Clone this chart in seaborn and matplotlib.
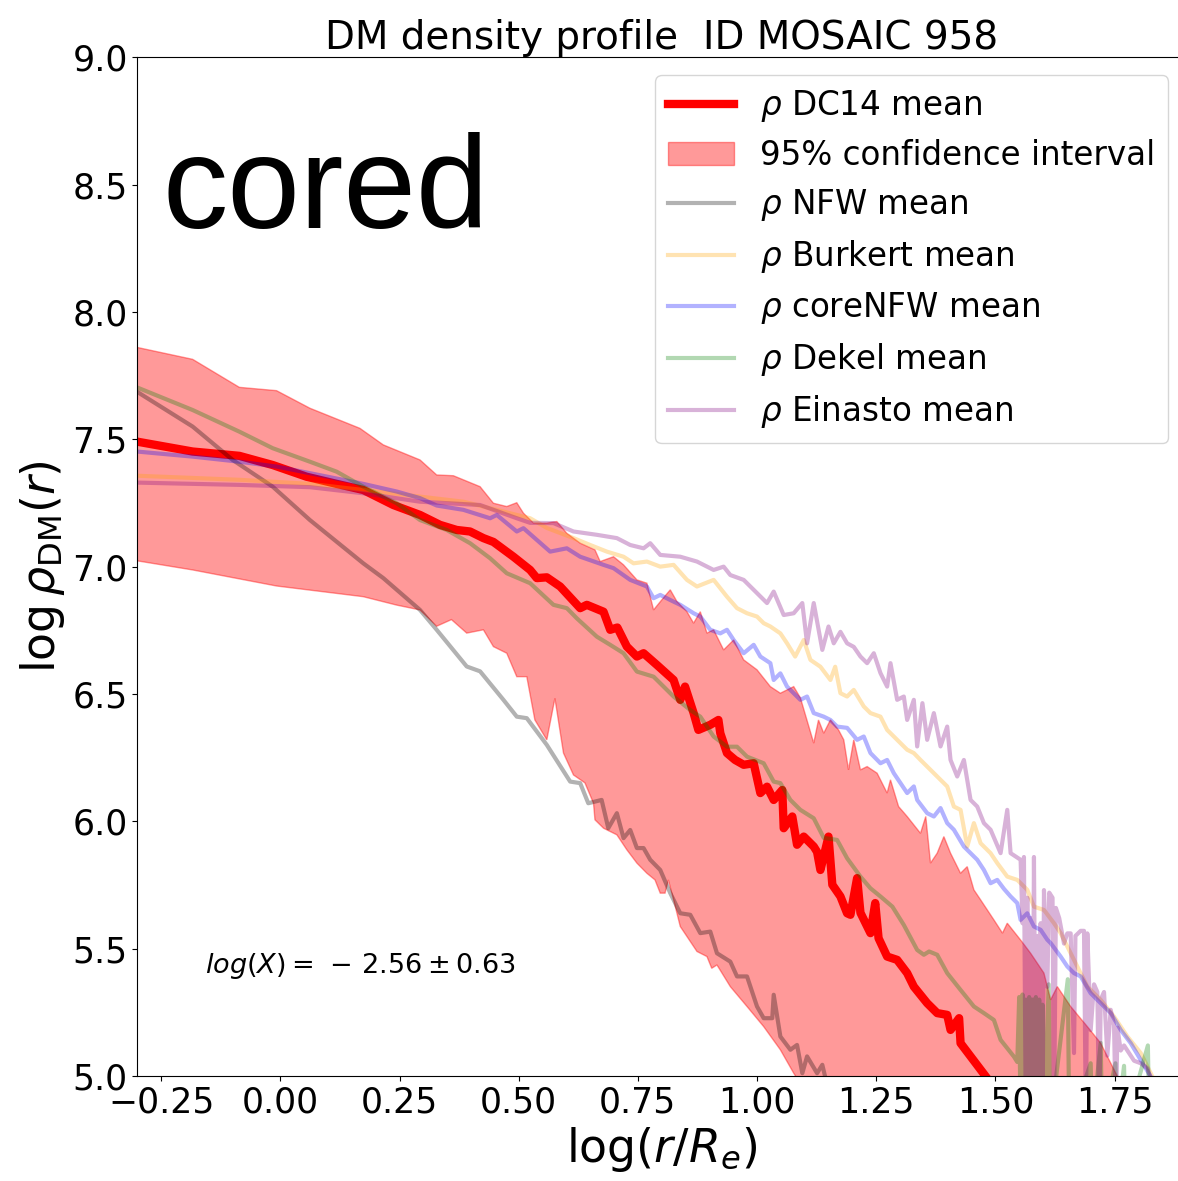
import numpy as np
import pandas as pd
import matplotlib
matplotlib.use("Agg")
import matplotlib.pyplot as plt
import seaborn as sns

# ---------------- data ----------------
dc14_x = [-0.301,-0.184,-0.086,-0.016,0.055,0.118,0.174,0.237,0.293,0.335,
          0.370,0.398,0.426,0.447,0.489,0.524,0.538,0.559,0.587,0.629,
          0.643,0.678,0.692,0.707,0.727,0.748,0.762,0.790,0.825,0.839,
          0.849,0.867,0.877,0.902,0.919,0.923,0.937,0.954,0.972,0.993,
          1.007,1.021,1.035,1.053,1.056,1.074,1.084,1.098,1.119,1.126,
          1.133,1.150,1.158,1.175,1.189,1.196,1.210,1.217,1.238,1.248,
          1.255,1.273,1.294,1.315,1.329,1.357,1.378,1.399,1.406,1.424,
          1.427,1.480,1.520]
dc14_y = [7.491,7.452,7.435,7.399,7.353,7.325,7.301,7.242,7.203,7.164,
          7.144,7.138,7.112,7.097,7.039,6.987,6.955,6.958,6.922,6.837,
          6.850,6.823,6.752,6.761,6.686,6.647,6.660,6.614,6.555,6.477,
          6.529,6.425,6.359,6.379,6.398,6.346,6.268,6.241,6.222,6.228,
          6.111,6.136,6.084,6.123,5.973,6.019,5.908,5.940,5.901,5.880,
          5.809,5.940,5.751,5.705,5.639,5.633,5.777,5.641,5.561,5.679,
          5.541,5.469,5.456,5.404,5.351,5.286,5.247,5.240,5.181,5.227,
          5.129,4.998,4.900]

ci_up_x = [-0.301,-0.184,-0.086,-0.008,0.062,0.167,0.216,0.293,0.328,0.363,
           0.419,0.447,0.475,0.496,0.510,0.531,0.559,0.580,0.601,0.629,
           0.660,0.671,0.699,0.720,0.748,0.769,0.783,0.800,0.818,0.832,
           0.853,0.867,0.881,0.895,0.909,0.930,0.951,0.972,1.000,1.028,
           1.049,1.077,1.091,1.119,1.129,1.140,1.154,1.171,1.182,1.192,
           1.203,1.217,1.231,1.252,1.273,1.280,1.297,1.315,1.343,1.354,
           1.364,1.378,1.392,1.406,1.427,1.441,1.455,1.469,1.497,1.515,
           1.525,1.553,1.574,1.602,1.616,1.630,1.658,1.693,1.721,1.756,
           1.784]
ci_up_y = [7.861,7.814,7.704,7.691,7.622,7.543,7.478,7.419,7.360,7.357,
           7.314,7.249,7.236,7.251,7.210,7.171,7.171,7.177,7.131,7.092,
           7.066,7.020,7.039,7.007,6.948,6.935,6.830,6.869,6.909,6.863,
           6.823,6.778,6.823,6.739,6.752,6.673,6.712,6.634,6.595,6.529,
           6.503,6.529,6.485,6.307,6.398,6.346,6.398,6.359,6.320,6.202,
           6.320,6.202,6.215,6.189,6.111,6.163,6.058,6.019,5.953,6.019,
           5.836,5.875,5.940,5.875,5.796,5.822,5.731,5.692,5.613,5.561,
           5.600,5.534,5.482,5.404,5.299,5.351,5.273,5.194,5.129,4.999,
           4.920]

ci_lo_x = [-0.301,-0.184,-0.008,0.174,0.244,0.293,0.328,0.359,0.391,0.426,
           0.447,0.475,0.496,0.517,0.534,0.559,0.576,0.594,0.615,0.639,
           0.657,0.660,0.678,0.706,0.727,0.748,0.769,0.786,0.797,0.807,
           0.814,0.825,0.839,0.874,0.895,0.905,0.916,0.944,0.979,1.014,
           1.049,1.077,1.112]
ci_lo_y = [7.023,6.987,6.924,6.882,6.849,6.830,6.766,6.792,6.739,6.752,
           6.686,6.660,6.568,6.568,6.398,6.320,6.483,6.268,6.182,6.151,
           6.071,6.006,5.973,5.947,5.888,5.836,5.796,5.770,5.718,5.718,
           5.770,5.692,5.587,5.489,5.469,5.423,5.436,5.351,5.273,5.194,
           5.103,5.011,4.910]

nfw_x = [-0.301,-0.184,-0.100,-0.016,0.062,0.174,0.216,0.293,0.328,0.391,
         0.419,0.468,0.496,0.517,0.559,0.608,0.629,0.646,0.674,0.688,
         0.706,0.720,0.734,0.748,0.762,0.776,0.797,0.818,0.839,0.860,
         0.881,0.902,0.916,0.944,0.958,0.979,1.000,1.014,1.032,1.035,
         1.049,1.070,1.084,1.095,1.105,1.126,1.137,1.147,1.175]
nfw_y = [7.687,7.550,7.419,7.314,7.183,7.013,6.955,6.830,6.752,6.608,
         6.589,6.477,6.411,6.405,6.300,6.156,6.150,6.071,6.084,5.973,
         6.032,5.934,5.966,5.895,5.895,5.849,5.809,5.718,5.639,5.633,
         5.561,5.567,5.482,5.449,5.391,5.391,5.273,5.227,5.227,5.319,
         5.155,5.103,5.122,5.011,5.077,5.011,5.044,4.965,4.870]

bur_x = [-0.301,-0.086,0.062,0.174,0.293,0.384,0.454,0.496,0.524,0.559,
         0.615,0.650,0.685,0.720,0.741,0.769,0.797,0.825,0.853,0.874,
         0.909,0.937,0.958,0.979,1.000,1.014,1.028,1.049,1.063,1.080,
         1.098,1.112,1.133,1.154,1.164,1.175,1.189,1.203,1.224,1.238,
         1.259,1.273,1.294,1.315,1.329,1.343,1.364,1.378,1.399,1.413,
         1.427,1.441,1.455,1.469,1.490,1.504,1.525,1.546,1.567,1.581,
         1.602,1.623,1.637,1.665,1.693,1.721,1.749,1.777,1.805,1.826,
         1.847]
bur_y = [7.357,7.341,7.325,7.301,7.275,7.255,7.223,7.203,7.190,7.152,
         7.112,7.085,7.059,7.039,7.013,7.020,7.000,7.007,6.948,6.922,
         6.948,6.882,6.837,6.817,6.804,6.778,6.765,6.738,6.699,6.647,
         6.712,6.634,6.607,6.555,6.607,6.503,6.490,6.516,6.451,6.425,
         6.411,6.359,6.320,6.281,6.268,6.241,6.202,6.176,6.137,6.058,
         6.045,5.901,5.993,5.914,5.875,5.836,5.783,5.770,5.731,5.665,
         5.652,5.600,5.561,5.456,5.351,5.299,5.233,5.155,5.090,5.011,
         4.930]

cnfw_x = [-0.301,-0.184,-0.086,-0.008,0.062,0.174,0.244,0.293,0.328,0.384,
          0.440,0.454,0.496,0.510,0.538,0.566,0.601,0.629,0.678,0.699,
          0.734,0.769,0.783,0.797,0.818,0.839,0.867,0.881,0.902,0.923,
          0.937,0.951,0.972,0.993,1.007,1.028,1.035,1.049,1.063,1.077,
          1.091,1.105,1.119,1.140,1.154,1.168,1.189,1.210,1.224,1.238,
          1.259,1.273,1.287,1.301,1.315,1.329,1.336,1.357,1.371,1.385,
          1.399,1.413,1.434,1.448,1.462,1.476,1.490,1.504,1.518,1.532,
          1.546,1.553,1.567,1.581,1.595,1.609,1.616,1.637,1.651,1.665,
          1.679,1.700,1.721,1.742,1.763,1.784,1.805,1.826,1.847]
cnfw_y = [7.452,7.432,7.412,7.393,7.367,7.325,7.295,7.269,7.240,7.223,
          7.190,7.203,7.138,7.151,7.105,7.059,7.072,7.039,7.007,6.994,
          6.948,6.922,6.876,6.889,6.869,6.850,6.817,6.804,6.752,6.738,
          6.752,6.712,6.660,6.693,6.647,6.621,6.555,6.581,6.529,6.503,
          6.477,6.490,6.425,6.411,6.398,6.372,6.367,6.320,6.333,6.268,
          6.228,6.241,6.189,6.150,6.111,6.137,6.084,6.032,6.019,6.052,
          5.993,5.967,5.901,5.875,5.849,5.809,5.757,5.770,5.735,5.705,
          5.679,5.613,5.639,5.587,5.574,5.535,5.522,5.469,5.430,5.404,
          5.391,5.325,5.286,5.247,5.181,5.129,5.063,4.998,4.920]

dek_x = [-0.301,-0.184,-0.086,-0.016,0.062,0.118,0.174,0.244,0.293,0.349,
         0.398,0.440,0.475,0.524,0.573,0.601,0.622,0.664,0.692,0.720,
         0.748,0.783,0.825,0.860,0.881,0.909,0.937,0.958,0.979,1.014,
         1.035,1.049,1.070,1.091,1.119,1.140,1.168,1.189,1.217,1.238,
         1.259,1.284,1.308,1.336,1.350,1.361,1.378,1.399,1.427,1.455,
         1.476,1.497,1.511,1.539,1.546,
         1.550,1.553,1.557,1.560,1.564,1.567,1.571,1.574,1.578,1.581,
         1.585,1.588,1.592,1.595,1.599,1.602,1.612,1.615,1.652,1.655,
         1.700,1.703,1.721,1.724,1.752,1.755,1.770,1.773,1.820,1.823]
dek_y = [7.704,7.615,7.530,7.465,7.412,7.373,7.314,7.249,7.183,7.144,
         7.092,7.033,6.974,6.935,6.850,6.837,6.797,6.725,6.693,6.660,
         6.588,6.568,6.490,6.437,6.411,6.333,6.293,6.293,6.254,6.228,
         6.156,6.150,6.084,6.045,6.012,5.935,5.927,5.855,5.783,5.737,
         5.705,5.665,5.593,5.495,5.476,5.489,5.476,5.404,5.338,5.273,
         5.247,5.220,5.142,5.076,5.055,
         5.31,4.80,5.32,4.80,5.30,4.80,5.31,4.80,5.30,4.80,
         5.31,4.80,5.30,4.80,5.28,4.80,5.36,4.80,5.38,4.80,
         5.05,4.80,5.13,4.80,5.05,4.80,5.04,4.80,5.12,4.80]

ein_x = [-0.301,-0.086,0.062,0.174,0.293,0.419,0.496,0.524,0.573,0.615,
         0.664,0.706,0.734,0.762,0.776,0.797,0.839,0.874,0.909,0.930,
         0.944,0.972,0.993,1.021,1.035,1.056,1.077,1.095,1.105,1.119,
         1.137,1.150,1.161,1.175,1.189,1.203,1.217,1.231,1.245,1.259,
         1.273,1.280,1.294,1.308,1.315,1.329,1.336,1.347,1.357,1.371,
         1.385,1.399,1.406,1.420,1.434,1.448,1.462,1.476,1.490,1.511,
         1.525,1.532,1.553,1.557,1.560,1.564,1.567,1.571,1.574,1.578,
         1.581,1.585,1.588,1.592,1.595,1.599,1.602,1.609,1.613,1.620,
         1.623,1.627,1.634,1.644,1.651,1.658,1.665,1.668,1.679,1.686,
         1.690,1.693,1.700,1.707,1.714,1.718,1.721,1.728,1.735,1.742,
         1.749,1.753,1.756,1.763,1.770,1.777,1.784,1.791,1.805,1.819,
         1.833,1.840]
ein_y = [7.330,7.321,7.312,7.288,7.255,7.242,7.190,7.172,7.171,7.138,
         7.125,7.112,7.085,7.072,7.092,7.046,7.039,7.020,6.987,7.000,
         6.967,6.948,6.909,6.857,6.902,6.810,6.817,6.857,6.699,6.857,
         6.673,6.765,6.699,6.744,6.699,6.685,6.647,6.621,6.660,6.582,
         6.529,6.621,6.477,6.490,6.398,6.477,6.294,6.464,6.320,6.425,
         6.294,6.372,6.241,6.176,6.241,6.084,6.058,5.993,5.967,5.875,
         6.045,5.875,5.849,5.60,5.86,4.80,5.70,4.80,5.62,4.80,
         5.86,4.80,5.55,4.80,5.60,4.80,5.73,5.35,5.72,5.70,
         4.80,5.66,5.62,5.52,5.56,5.56,5.09,5.55,5.57,5.57,
         4.80,5.56,5.18,5.36,5.33,4.80,5.30,5.33,5.08,5.26,
         5.20,4.80,5.19,5.10,5.12,5.10,5.08,5.06,5.05,5.03,
         4.95,4.90]

x_ticks = [-0.25, 0.00, 0.25, 0.50, 0.75, 1.00, 1.25, 1.50, 1.75]
y_ticks = [5.0, 5.5, 6.0, 6.5, 7.0, 7.5, 8.0, 8.5, 9.0]

title_text = "DM density profile  ID MOSAIC 958"
labels = [r"$\rho$ DC14 mean", "95% confidence interval", r"$\rho$ NFW mean",
          r"$\rho$ Burkert mean", r"$\rho$ coreNFW mean", r"$\rho$ Dekel mean",
          r"$\rho$ Einasto mean"]

# ---------------- figure ----------------
plt.rcParams['font.family'] = ['DejaVu Sans']
fig = plt.figure(figsize=(11.78, 11.81), dpi=100)
ax = fig.add_axes([0.1166, 0.0889, 0.8902, 0.8626])


def line(xs, ys, **kw):
    df = pd.DataFrame({"x": xs, "y": ys})
    sns.lineplot(data=df, x="x", y="y", estimator=None, sort=False, ax=ax, **kw)
    return ax.lines[-1]


h_dc14 = line(dc14_x, dc14_y, color="red", linewidth=6)
poly_x = list(ci_up_x) + list(ci_lo_x[::-1])
poly_y = list(ci_up_y) + list(ci_lo_y[::-1])
h_ci = ax.fill(poly_x, poly_y, facecolor="red", edgecolor="red", alpha=0.4, linewidth=1)[0]
h_nfw = line(nfw_x, nfw_y, color="black", alpha=0.3, linewidth=3)
h_bur = line(bur_x, bur_y, color="orange", alpha=0.3, linewidth=3)
h_cnfw = line(cnfw_x, cnfw_y, color="blue", alpha=0.3, linewidth=3)
h_dek = line(dek_x, dek_y, color="green", alpha=0.3, linewidth=3)
h_ein = line(ein_x, ein_y, color="purple", alpha=0.3, linewidth=3)

ax.set_xlim(-0.30, 1.90)
ax.set_ylim(5.0, 9.0)
ax.set_xticks(x_ticks)
ax.set_yticks(y_ticks)
ax.tick_params(labelsize=25)
ax.set_xlabel(r"log$(r/R_e)$", fontsize=33)
ax.set_ylabel(r"log$\,\rho_{\rm DM}(r)$", fontsize=33)
ax.set_title(title_text, fontsize=28)

ax.text(0.0236, 0.832, "cored", transform=ax.transAxes, fontsize=94,
        family=["Liberation Sans", "DejaVu Sans"], ha="left", va="baseline")
ax.text(-0.159, 5.406, r"$log(X) = \,-\, 2.56 \pm 0.63$", fontsize=19.5,
        ha="left", va="baseline")

ax.legend([h_dc14, h_ci, h_nfw, h_bur, h_cnfw, h_dek, h_ein], labels,
          loc="upper right", fontsize=23.5, labelspacing=0.46,
          borderaxespad=0.55)

fig.savefig("out.png", dpi=100)
